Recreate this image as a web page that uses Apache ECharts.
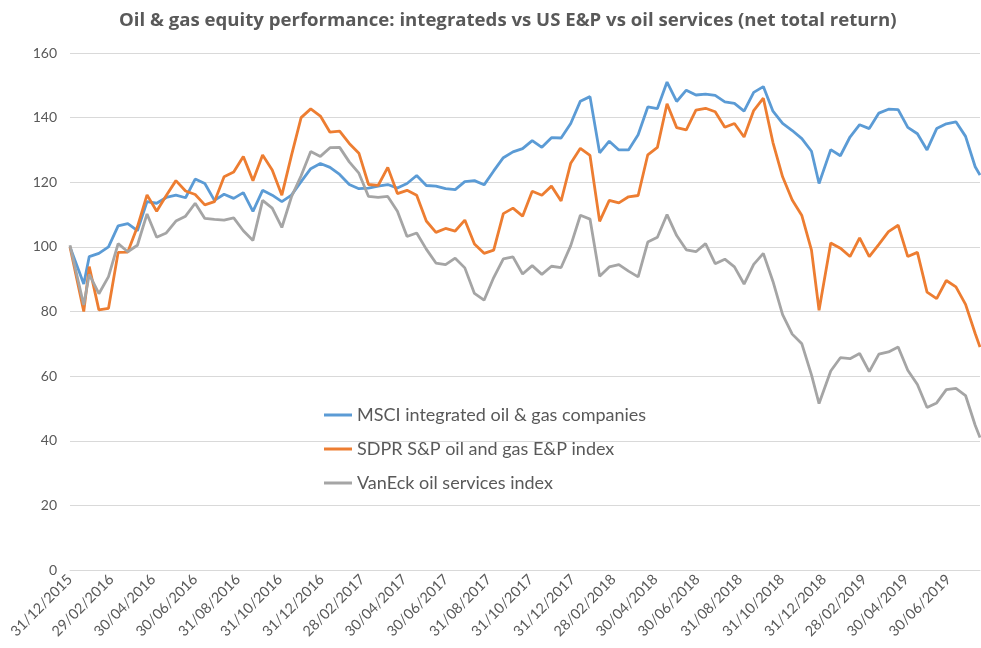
<!DOCTYPE html>
<html>
<head>
<meta charset="utf-8">
<title>Oil & gas equity performance</title>
<script src="https://cdn.jsdelivr.net/npm/echarts@6/dist/echarts.min.js"></script>
<style>
  html, body { margin: 0; padding: 0; background: #fff; }
  #main { width: 981px; height: 648px; }
</style>
</head>
<body>
<div id="main"></div>
<script>
// sample dates (roughly every two weeks)
const dates = [
  '2015-12-31','2016-01-20','2016-01-28','2016-02-11','2016-02-25','2016-03-10','2016-03-24','2016-04-07',
  '2016-04-21','2016-05-05','2016-05-19','2016-06-02','2016-06-16','2016-06-30','2016-07-14','2016-07-28',
  '2016-08-11','2016-08-25','2016-09-08','2016-09-22','2016-10-06','2016-10-20','2016-11-03','2016-11-17',
  '2016-12-01','2016-12-15','2016-12-29','2017-01-12','2017-01-26','2017-02-09','2017-02-23','2017-03-09',
  '2017-03-23','2017-04-06','2017-04-20','2017-05-04','2017-05-18','2017-06-01','2017-06-15','2017-06-29',
  '2017-07-13','2017-07-27','2017-08-10','2017-08-24','2017-09-07','2017-09-21','2017-10-05','2017-10-19',
  '2017-11-02','2017-11-16','2017-11-30','2017-12-14','2017-12-28','2018-01-11','2018-01-25','2018-02-08',
  '2018-02-22','2018-03-08','2018-03-22','2018-04-05','2018-04-19','2018-05-03','2018-05-17','2018-05-31',
  '2018-06-14','2018-06-28','2018-07-12','2018-07-26','2018-08-09','2018-08-23','2018-09-06','2018-09-20',
  '2018-10-04','2018-10-18','2018-11-01','2018-11-15','2018-11-29','2018-12-13','2018-12-24','2019-01-10',
  '2019-01-24','2019-02-07','2019-02-21','2019-03-07','2019-03-21','2019-04-04','2019-04-18','2019-05-02',
  '2019-05-16','2019-05-30','2019-06-13','2019-06-27','2019-07-11','2019-07-25','2019-08-08','2019-08-15'
];

// MSCI integrated oil & gas companies
const msci = [
  100, 88.5, 97, 98, 100, 106.5, 107.2, 105, 114, 113.5, 115.3, 116, 115.2, 121, 119.6, 114.4,
  116.3, 115, 116.8, 111, 117.5, 116, 114, 116, 120.2, 124.2, 125.8, 124.6, 122.4, 119.3, 118, 118.2,
  118.8, 119.3, 118.2, 119.6, 122.1, 119, 118.8, 118, 117.7, 120.2, 120.5, 119.2, 123.5, 127.6, 129.4, 130.4,
  132.9, 130.8, 133.8, 133.7, 138.2, 145.1, 146.5, 129.1, 132.7, 130, 130, 134.7, 143.3, 142.8, 151, 145,
  148.5, 147, 147.3, 146.9, 144.9, 144.4, 142, 147.8, 149.6, 142, 138.2, 136, 133.5, 129.6, 119.6, 130.1,
  128.2, 134, 137.8, 136.6, 141.4, 142.6, 142.5, 137, 135, 130, 136.6, 138.1, 138.7, 134.2, 124.8, 122.2
];

// SDPR S&P oil and gas E&P index
const sdpr = [
  100, 80, 93.9, 80.5, 81, 98.3, 98.4, 106.2, 116.1, 111, 115.9, 120.5, 117.3, 116.2, 113, 114,
  121.7, 123.2, 128, 120.5, 128.4, 123.8, 116, 128.3, 140, 142.7, 140.5, 135.5, 135.8, 132, 129, 119.3,
  119, 124.6, 116.5, 117.5, 116, 108, 104.5, 105.7, 104.9, 108.3, 100.9, 98, 99, 110.3, 112, 109.5,
  117.2, 116, 118.8, 114.2, 125.9, 130.5, 128.3, 107.9, 114.4, 113.6, 115.5, 115.9, 128.5, 130.8, 144.3, 136.9,
  136.2, 142.3, 142.9, 141.8, 137, 138.2, 134, 142.2, 146, 132.3, 121.7, 114.5, 109.7, 99, 80.4, 101.2,
  99.6, 97, 102.8, 97, 100.8, 104.7, 106.7, 97, 98.3, 86, 84, 89.6, 87.6, 82.2, 73.2, 69
];

// VanEck oil services index
const vaneck = [
  100.5, 82, 91.5, 85.5, 90.8, 101, 98.5, 100.5, 110.2, 103, 104.3, 108, 109.5, 113.5, 108.8, 108.5,
  108.3, 109, 105, 102, 114.4, 112, 106, 115.5, 122, 129.5, 128, 130.7, 130.8, 126.3, 122.8, 115.6,
  115.3, 115.6, 111, 103.2, 104.3, 99.3, 95, 94.5, 96.5, 93.5, 85.6, 83.5, 90.5, 96.3, 96.9, 91.6,
  94.2, 91.5, 94, 93.6, 100.4, 109.8, 108.6, 90.9, 93.8, 94.5, 92.5, 90.7, 101.5, 103, 110, 103.5,
  99.1, 98.5, 101, 94.8, 96.2, 93.8, 88.5, 94.6, 98, 89.3, 79, 73, 70, 60.4, 51.5, 61.6,
  65.7, 65.4, 67, 61.4, 66.8, 67.5, 69, 61.8, 57.4, 50.3, 51.7, 55.8, 56.2, 54, 44.8, 41
];

const seriesNames = ['MSCI integrated oil & gas companies', 'SDPR S&P oil and gas E&P index', 'VanEck oil services index'];

// x axis labels, every two months
const tickLabels = [
  '31/12/2015','29/02/2016','30/04/2016','30/06/2016','31/08/2016','31/10/2016','31/12/2016','28/02/2017',
  '30/04/2017','30/06/2017','31/08/2017','31/10/2017','31/12/2017','28/02/2018','30/04/2018','30/06/2018',
  '31/08/2018','31/10/2018','31/12/2018','28/02/2019','30/04/2019','30/06/2019'
];

function pad(n) { return n < 10 ? '0' + n : '' + n; }
function isoDay(t) {
  const d = new Date(t);
  return d.getUTCFullYear() + '-' + pad(d.getUTCMonth() + 1) + '-' + pad(d.getUTCDate());
}
function toTime(s) {
  const p = s.split('-');
  return Date.UTC(+p[0], +p[1] - 1, +p[2]);
}

// one category per calendar day, so spacing follows real time
const days = [];
for (let t = toTime(dates[0]); t <= toTime(dates[dates.length - 1]); t += 86400000) {
  days.push(isoDay(t));
}
const labelDays = {};
tickLabels.forEach(s => {
  const p = s.split('/');
  labelDays[p[2] + '-' + p[1] + '-' + p[0]] = true;
});

function pairs(vals) { return dates.map((d, i) => [d, vals[i]]); }

const font = 'Lato, "Liberation Sans", sans-serif';
const textGrey = '#595959';

let myChart = echarts.init(document.getElementById('main'));
const option = {
  animation: false,
  title: {
    text: 'Oil & gas equity performance: integrateds vs US E&P vs oil services (net total return)',
    left: 114,
    top: 6,
    textStyle: { fontFamily: '"Open Sans", Lato, sans-serif', fontSize: 18.6, fontWeight: 'bold', color: textGrey }
  },
  legend: {
    orient: 'vertical',
    left: 319,
    top: 401,
    icon: 'rect',
    itemWidth: 28,
    itemHeight: 3,
    itemGap: 16,
    textStyle: { fontFamily: font, fontSize: 18, color: textGrey },
    data: seriesNames
  },
  grid: { left: 70, right: 1, top: 53, bottom: 78 },
  xAxis: {
    type: 'category',
    data: days,
    boundaryGap: false,
    axisLine: { show: true, lineStyle: { color: '#d9d9d9', width: 1 } },
    axisTick: { show: false },
    splitLine: { show: false },
    axisLabel: {
      interval: function (idx, val) { return !!labelDays[val]; },
      rotate: 45,
      margin: 7,
      fontFamily: font,
      fontSize: 14.5,
      color: textGrey,
      formatter: function (val) {
        const p = val.split('-');
        return p[2] + '/' + p[1] + '/' + p[0];
      }
    }
  },
  yAxis: {
    type: 'value',
    min: 0,
    max: 160,
    interval: 20,
    axisLine: { show: false },
    axisTick: { show: false },
    splitLine: { lineStyle: { color: '#d9d9d9', width: 1 } },
    axisLabel: { fontFamily: font, fontSize: 14, color: textGrey, margin: 13 }
  },
  series: [
    { name: seriesNames[0], type: 'line', data: pairs(msci), showSymbol: false, symbol: 'none',
      color: '#5b9bd5', lineStyle: { width: 2.8, color: '#5b9bd5' } },
    { name: seriesNames[1], type: 'line', data: pairs(sdpr), showSymbol: false, symbol: 'none',
      color: '#ed7d31', lineStyle: { width: 2.8, color: '#ed7d31' } },
    { name: seriesNames[2], type: 'line', data: pairs(vaneck), showSymbol: false, symbol: 'none',
      color: '#a5a5a5', lineStyle: { width: 2.8, color: '#a5a5a5' } }
  ]
};

window.onresize = myChart.resize;
myChart.setOption(option);
</script>
</body>
</html>
